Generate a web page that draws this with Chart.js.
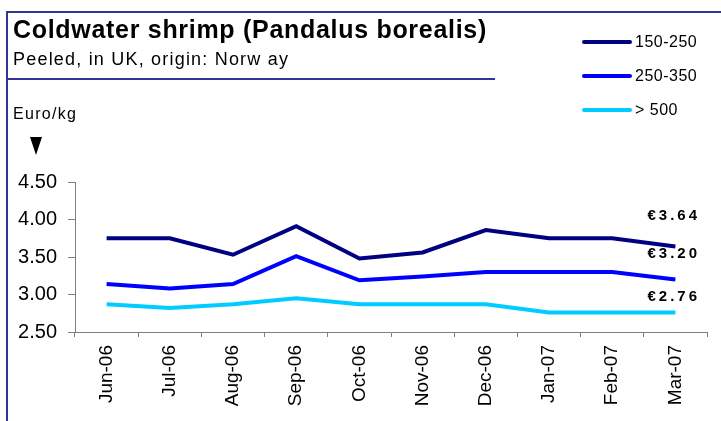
<!DOCTYPE html>
<html>
<head>
<meta charset="utf-8">
<script src="https://cdn.jsdelivr.net/npm/chart.js@4"></script>
<style>
  html, body { margin: 0; padding: 0; background: #fff; }
  #wrap { position: relative; width: 721px; height: 421px; overflow: hidden; font-family: Arial, "Liberation Sans", sans-serif; }
  #chart { position: absolute; left: 0; top: 0; }
  .frame { position: absolute; background: #333399; }
  .txt { position: absolute; white-space: nowrap; color: #000; line-height: 1; }
  #title { left: 13px; top: 17px; font-size: 25px; font-weight: bold; letter-spacing: 0.7px; }
  #subtitle { left: 13px; top: 50px; font-size: 18px; letter-spacing: 1.2px; }
  #unit { left: 13px; top: 106px; font-size: 16px; letter-spacing: 1.3px; }
  #arrow { position: absolute; left: 30px; top: 137px; width: 0; height: 0;
           border-left: 6px solid transparent; border-right: 6px solid transparent; border-top: 18px solid #000; }
  .leg { position: absolute; left: 582px; height: 20px; display: flex; align-items: center; }
  .leg span.ln { display: inline-block; width: 50px; height: 4px; border-radius: 2px; }
  .leg span.lb { font-size: 16px; margin-left: 3px; letter-spacing: 0.5px; }
</style>
</head>
<body>
<div id="wrap">
  <canvas id="chart" width="721" height="421"></canvas>
  <div class="frame" style="left:6px; top:11px; width:2px; height:410px;"></div>
  <div class="frame" style="left:6px; top:11px; width:715px; height:2px;"></div>
  <div class="frame" style="left:6px; top:78px; width:489px; height:2px;"></div>
  <div class="txt" id="title">Coldwater shrimp (Pandalus borealis)</div>
  <div class="txt" id="subtitle">Peeled, in UK, origin: Norw ay</div>
  <div class="txt" id="unit">Euro/kg</div>
  <div id="arrow"></div>
  <div id="legend"></div>
</div>
<script>
// Datos
const months = ['Jun-06', 'Jul-06', 'Aug-06', 'Sep-06', 'Oct-06', 'Nov-06', 'Dec-06', 'Jan-07', 'Feb-07', 'Mar-07'];
const size150to250 = [3.75, 3.75, 3.53, 3.91, 3.48, 3.56, 3.86, 3.75, 3.75, 3.64];
const size250to350 = [3.14, 3.08, 3.14, 3.51, 3.19, 3.24, 3.30, 3.30, 3.30, 3.20];
const sizeOver500 = [2.87, 2.82, 2.87, 2.95, 2.87, 2.87, 2.87, 2.76, 2.76, 2.76];
const seriesNames = ['150-250', '250-350', '> 500'];
const seriesColors = ['#000080', '#0000FF', '#00CCFF'];
const yTicks = [2.5, 3.0, 3.5, 4.0, 4.5];

// Etiquetas del último valor (desplazamiento vertical sobre la línea)
const lastLabelOffsets = [-31, -26, -16];

const FONT = 'Arial, "Liberation Sans", sans-serif';

const lastValuePlugin = {
    id: 'lastValue',
    afterDatasetsDraw(chart) {
        const ctx = chart.ctx;
        const y = chart.scales.y;
        ctx.save();
        ctx.letterSpacing = '3px';
        ctx.font = 'bold 15px ' + FONT;
        ctx.fillStyle = '#000';
        ctx.textAlign = 'right';
        ctx.textBaseline = 'middle';
        chart.data.datasets.forEach((ds, i) => {
            const v = ds.data[ds.data.length - 1];
            ctx.fillText('\u20AC' + v.toFixed(2), 700, y.getPixelForValue(v) + lastLabelOffsets[i]);
        });
        ctx.restore();
    }
};

const chart = new Chart(document.getElementById('chart'), {
    type: 'line',
    data: {
        labels: months,
        datasets: [size150to250, size250to350, sizeOver500].map((d, i) => ({
            label: seriesNames[i],
            data: d,
            borderColor: seriesColors[i],
            backgroundColor: seriesColors[i],
            borderWidth: 4,
            pointRadius: 0,
            tension: 0,
            fill: false
        }))
    },
    options: {
        responsive: false,
        animation: false,
        devicePixelRatio: 1,
        layout: { padding: { top: 182, right: 14, left: 0, bottom: 0 } },
        plugins: { legend: { display: false }, tooltip: { enabled: false } },
        scales: {
            x: {
                offset: true,
                grid: { offset: true, drawOnChartArea: false, drawTicks: true, tickLength: 5, color: '#808080' },
                border: { color: '#808080', width: 1 },
                ticks: { color: '#000', font: { family: FONT, size: 19 }, minRotation: 90, maxRotation: 90, padding: 8, autoSkip: false },
                afterFit(s) { s.height = 89; }
            },
            y: {
                min: 2.5,
                max: 4.5,
                afterBuildTicks(s) { s.ticks = yTicks.map(v => ({ value: v })); },
                grid: { drawOnChartArea: false, drawTicks: true, tickLength: 7, color: '#808080' },
                border: { color: '#808080', width: 1 },
                ticks: { color: '#000', font: { family: FONT, size: 20 }, padding: 11, callback: v => v.toFixed(2) },
                afterFit(s) { s.width = 75; }
            }
        }
    },
    plugins: [lastValuePlugin]
});

// Leyenda en HTML
const legendTops = [32, 66, 100];
const legend = document.getElementById('legend');
chart.data.datasets.forEach((ds, i) => {
    const row = document.createElement('div');
    row.className = 'leg';
    row.style.top = legendTops[i] + 'px';
    row.innerHTML = '<span class="ln" style="background:' + ds.borderColor + '"></span><span class="lb">' + ds.label + '</span>';
    legend.appendChild(row);
});
</script>
</body>
</html>
